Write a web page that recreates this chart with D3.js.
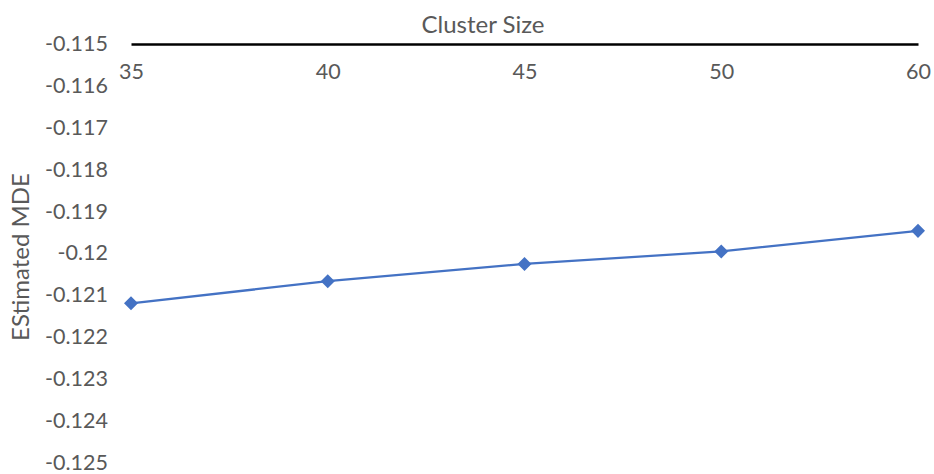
<!DOCTYPE html>
<html>
<head>
<meta charset="utf-8">
<script src="https://cdn.jsdelivr.net/npm/d3@7"></script>
<style>
  html, body { margin: 0; padding: 0; background: #fff; }
  svg { display: block; }
  text { font-family: Lato, "Open Sans", sans-serif; fill: #595959; }
</style>
</head>
<body>
<svg id="chart" width="934" height="474"></svg>
<script>
// Cluster size vs. estimated minimum detectable effect
const clusterSizes = ["35", "40", "45", "50", "60"];
const mdeValues = [-0.12119, -0.12066, -0.12025, -0.11995, -0.11946];
const yTicks = [-0.115, -0.116, -0.117, -0.118, -0.119, -0.12, -0.121, -0.122, -0.123, -0.124, -0.125];

const width = 934, height = 474;
const margin = { top: 44, right: 16, bottom: 11, left: 131 };
const font = "Lato, 'Open Sans', sans-serif";

const svg = d3.select("#chart");

const x = d3.scalePoint()
  .domain(clusterSizes)
  .range([margin.left, width - margin.right]);

const y = d3.scaleLinear()
  .domain([-0.115, -0.125])
  .range([margin.top, height - margin.bottom]);

// Y tick labels (no axis line, no gridlines)
const yAxis = d3.axisLeft(y)
  .tickValues(yTicks)
  .tickSize(0)
  .tickPadding(0)
  .tickFormat(d => String(+d.toFixed(3)));

svg.append("g")
  .attr("transform", `translate(${margin.left - 23},0)`)
  .call(yAxis)
  .call(g => g.select(".domain").remove())
  .call(g => g.selectAll("text")
    .attr("dy", "0.3em")
    .style("font-family", font)
    .style("font-size", "21.5px")
    .attr("fill", "#595959"));

// Category axis across the top
const xAxis = d3.axisBottom(x).tickSize(0).tickPadding(20);
svg.append("g")
  .attr("transform", `translate(0,${margin.top})`)
  .call(xAxis)
  .call(g => g.select(".domain")
    .attr("stroke", "#000")
    .attr("stroke-width", 2.5))
  .call(g => g.selectAll("text")
    .style("font-family", font)
    .style("font-size", "21.5px")
    .attr("fill", "#595959"));

// Axis titles
svg.append("text")
  .attr("x", 483)
  .attr("y", 33)
  .attr("text-anchor", "middle")
  .style("font-size", "24px")
  .text("Cluster Size");

svg.append("text")
  .attr("transform", `translate(29,257) rotate(-90)`)
  .attr("text-anchor", "middle")
  .style("font-size", "24px")
  .text("EStimated MDE");

// Series line and diamond markers
const data = clusterSizes.map((c, i) => ({ c, v: mdeValues[i] }));

svg.append("path")
  .datum(data)
  .attr("fill", "none")
  .attr("stroke", "#4472C4")
  .attr("stroke-width", 2.25)
  .attr("d", d3.line().x(d => x(d.c)).y(d => y(d.v)));

svg.selectAll(".marker")
  .data(data)
  .join("path")
  .attr("class", "marker")
  .attr("transform", d => `translate(${x(d.c)},${y(d.v)})`)
  .attr("d", d3.symbol().type(d3.symbolDiamond2).size(125))
  .attr("fill", "#4472C4");
</script>
</body>
</html>
